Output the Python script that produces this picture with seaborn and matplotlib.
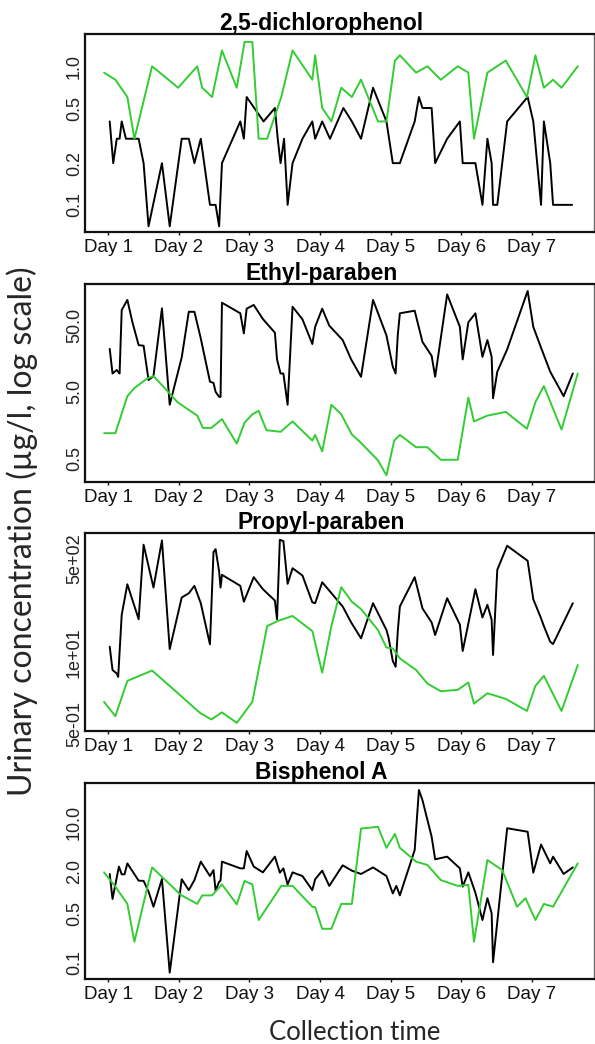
import numpy as np
import pandas as pd
import seaborn as sns
import matplotlib
matplotlib.use("Agg")
import matplotlib.pyplot as plt
from matplotlib.ticker import FixedLocator, FixedFormatter, NullLocator

sns.set_style("ticks")
plt.rcParams['font.family'] = ['Liberation Sans', 'DejaVu Sans']

BLACK = "#000000"
GREEN = "#33cc33"

day_ticks = [1, 2, 3, 4, 5, 6, 7]
day_labels = ["Day 1", "Day 2", "Day 3", "Day 4", "Day 5", "Day 6", "Day 7"]

# 2,5-dichlorophenol
dcp_black_day = [1.02, 1.07, 1.12, 1.16, 1.19, 1.25, 1.43, 1.50, 1.57, 1.76, 1.87, 2.04, 2.14, 2.22, 2.31,
                 2.44, 2.52, 2.57, 2.61, 2.87, 2.92, 2.96, 3.20, 3.36, 3.40, 3.44, 3.49, 3.54, 3.61, 3.75,
                 3.89, 3.93, 4.03, 4.14, 4.33, 4.45, 4.58, 4.75, 4.94, 5.03, 5.13, 5.34, 5.40, 5.45, 5.58,
                 5.63, 5.80, 5.98, 6.02, 6.20, 6.30, 6.37, 6.43, 6.45, 6.51, 6.65, 6.94, 7.02, 7.13, 7.17,
                 7.26, 7.30, 7.57]
dcp_black = [0.4, 0.2, 0.3, 0.3, 0.4, 0.3, 0.3, 0.2, 0.07, 0.2, 0.07, 0.3, 0.3, 0.2, 0.3,
             0.1, 0.1, 0.07, 0.2, 0.4, 0.3, 0.6, 0.4, 0.5, 0.3, 0.2, 0.3, 0.1, 0.2, 0.3,
             0.4, 0.3, 0.4, 0.3, 0.5, 0.4, 0.3, 0.7, 0.4, 0.2, 0.2, 0.4, 0.6, 0.5, 0.5,
             0.2, 0.3, 0.4, 0.2, 0.2, 0.1, 0.3, 0.2, 0.1, 0.1, 0.4, 0.6, 0.4, 0.1, 0.4,
             0.2, 0.1, 0.1]
dcp_green_day = [0.94, 1.10, 1.27, 1.37, 1.62, 1.99, 2.26, 2.33, 2.47, 2.61, 2.82, 2.93, 3.04, 3.13,
                 3.25, 3.45, 3.61, 3.89, 3.93, 4.03, 4.16, 4.30, 4.45, 4.58, 4.82, 4.94, 5.06, 5.13,
                 5.36, 5.52, 5.71, 5.95, 6.10, 6.18, 6.37, 6.63, 6.93, 7.05, 7.17, 7.30, 7.42, 7.65]
dcp_green = [0.9, 0.8, 0.6, 0.3, 1.0, 0.7, 1.0, 0.7, 0.6, 1.3, 0.7, 1.5, 1.5, 0.3,
             0.3, 0.6, 1.3, 0.8, 1.2, 0.5, 0.4, 0.7, 0.6, 0.8, 0.4, 0.4, 1.1, 1.2,
             0.9, 1.0, 0.8, 1.0, 0.9, 0.3, 0.9, 1.1, 0.6, 1.2, 0.7, 0.8, 0.7, 1.0]

# Ethyl-paraben
ep_black_day = [1.02, 1.06, 1.09, 1.12, 1.14, 1.16, 1.19, 1.27, 1.34, 1.43, 1.50, 1.57, 1.64, 1.76, 1.87,
                2.04, 2.14, 2.22, 2.31, 2.44, 2.49, 2.52, 2.57, 2.59, 2.61, 2.87, 2.92, 2.96, 3.06, 3.19,
                3.36, 3.39, 3.44, 3.48, 3.54, 3.61, 3.75, 3.89, 3.93, 4.03, 4.13, 4.32, 4.44, 4.58, 4.75,
                4.94, 5.03, 5.07, 5.10, 5.13, 5.34, 5.45, 5.58, 5.63, 5.80, 5.98, 6.02, 6.10, 6.20, 6.30,
                6.37, 6.43, 6.45, 6.51, 6.65, 6.94, 7.02, 7.13, 7.26, 7.45, 7.58]
ep_black = [22, 9.4, 10, 10.6, 10, 9.4, 84, 119, 56, 25, 24.5, 7.5, 8.6, 89, 3.2,
            16.4, 79, 79, 31.5, 7.1, 6.8, 5.0, 4.2, 4.2, 108, 75, 37.5, 88, 100, 61.5,
            38.4, 15.3, 9.4, 9.4, 3.2, 94, 61, 26, 47, 88, 49, 29.8, 15.3, 8.4, 119,
            35, 11.9, 9.4, 35, 75, 82, 28, 17.3, 8.4, 144, 47, 15.3, 55, 75, 16.7,
            29.8, 16.7, 4.0, 10, 21.6, 162, 47, 22.9, 10, 4.3, 9.4]
ep_green_day = [0.94, 1.10, 1.27, 1.37, 1.55, 1.64, 1.76, 1.98, 2.26, 2.34, 2.46, 2.61, 2.82, 2.93,
                3.04, 3.13, 3.24, 3.44, 3.61, 3.89, 3.93, 4.03, 4.16, 4.30, 4.45, 4.58, 4.82, 4.94,
                5.05, 5.13, 5.36, 5.52, 5.71, 5.95, 6.10, 6.18, 6.37, 6.63, 6.93, 7.05, 7.17, 7.42, 7.65]
ep_green = [1.2, 1.2, 4.3, 5.7, 7.9, 8.6, 6.3, 3.5, 2.2, 1.44, 1.44, 1.95, 0.84, 1.73,
            2.3, 2.6, 1.33, 1.26, 1.8, 0.93, 1.13, 0.64, 3.2, 2.3, 1.15, 0.86, 0.47, 0.28,
            0.93, 1.13, 0.74, 0.74, 0.48, 0.48, 4.1, 1.8, 2.2, 2.5, 1.4, 3.5, 6.1, 1.36, 9.4]

# Propyl-paraben
pp_black_day = [1.02, 1.06, 1.12, 1.14, 1.19, 1.27, 1.43, 1.50, 1.64, 1.76, 1.87, 2.04, 2.14, 2.22, 2.31,
                2.44, 2.49, 2.52, 2.57, 2.59, 2.61, 2.87, 2.92, 3.06, 3.19, 3.36, 3.39, 3.43, 3.48, 3.54,
                3.61, 3.75, 3.89, 3.93, 4.03, 4.13, 4.32, 4.44, 4.58, 4.75, 4.94, 4.97, 5.03, 5.07, 5.10,
                5.13, 5.34, 5.45, 5.58, 5.63, 5.80, 5.98, 6.02, 6.20, 6.30, 6.37, 6.43, 6.45, 6.51, 6.65,
                6.94, 7.02, 7.13, 7.17, 7.26, 7.30, 7.58]
pp_black = [12.7, 4.8, 4.15, 3.6, 48, 172, 40, 895, 150, 1072, 11.5, 99, 118, 161, 78,
            14, 658, 746, 293, 150, 255, 161, 83, 231, 140, 87, 40, 1100, 1042, 175,
            336, 248, 81, 78, 187, 132, 68, 35, 18, 78, 25.5, 18.5, 7.0, 5.5, 23.8,
            68, 231, 63, 35, 20.7, 96, 32, 10.6, 140, 43, 73, 39, 9.0, 314, 857,
            458, 92, 41.5, 30, 15.6, 14.2, 78]
pp_green_day = [0.94, 1.10, 1.27, 1.62, 1.98, 2.30, 2.46, 2.61, 2.82, 3.04, 3.25, 3.41, 3.61, 3.89,
                4.03, 4.16, 4.30, 4.45, 4.58, 4.82, 4.94, 5.03, 5.13, 5.36, 5.52, 5.71, 5.95, 6.10,
                6.18, 6.37, 6.63, 6.93, 7.05, 7.17, 7.42, 7.65]
pp_green = [1.27, 0.70, 3.05, 4.7, 1.85, 0.80, 0.61, 0.82, 0.53, 1.27, 30, 37.6, 45.8, 24.4,
            4.3, 30, 152, 83, 61, 25.5, 12.3, 11.8, 7.8, 4.8, 2.73, 1.98, 2.1, 2.85,
            1.18, 1.82, 1.44, 0.87, 2.48, 3.77, 0.87, 5.9]

# Bisphenol A
bpa_black_day = [1.02, 1.06, 1.15, 1.19, 1.23, 1.27, 1.43, 1.50, 1.57, 1.64, 1.76, 1.87, 2.04, 2.14, 2.22,
                 2.31, 2.44, 2.49, 2.52, 2.57, 2.59, 2.61, 2.87, 2.92, 2.96, 3.06, 3.19, 3.36, 3.43, 3.48,
                 3.54, 3.61, 3.75, 3.89, 3.93, 4.03, 4.13, 4.32, 4.45, 4.58, 4.75, 4.94, 5.03, 5.08, 5.13,
                 5.34, 5.40, 5.45, 5.58, 5.63, 5.80, 5.98, 6.02, 6.10, 6.20, 6.30, 6.37, 6.43, 6.45, 6.65,
                 6.94, 7.02, 7.13, 7.26, 7.30, 7.45, 7.58]
bpa_black = [1.82, 0.80, 2.32, 1.80, 1.80, 2.58, 1.46, 1.45, 1.02, 0.62, 1.54, 0.071, 1.53, 1.07, 1.49,
             2.73, 1.70, 2.07, 1.05, 1.41, 1.46, 2.73, 2.19, 2.19, 3.88, 2.32, 1.92, 3.22, 1.90, 2.19,
             1.29, 1.92, 1.70, 1.07, 1.53, 2.03, 1.23, 2.42, 2.03, 1.82, 2.26, 1.70, 0.96, 1.23, 0.90,
             4.0, 28.8, 20.7, 6.2, 2.95, 3.22, 2.19, 1.2, 1.92, 0.98, 0.40, 0.82, 0.50, 0.10, 8.2,
             7.3, 1.90, 4.8, 2.58, 3.22, 1.82, 2.26]
bpa_green_day = [0.94, 1.10, 1.27, 1.37, 1.62, 2.03, 2.26, 2.33, 2.47, 2.61, 2.82, 2.93, 3.04, 3.13,
                 3.45, 3.61, 3.89, 3.93, 4.03, 4.16, 4.30, 4.45, 4.58, 4.82, 4.94, 5.06, 5.13, 5.36,
                 5.52, 5.71, 5.95, 6.10, 6.18, 6.37, 6.58, 6.79, 6.91, 7.05, 7.17, 7.30, 7.65]
bpa_green = [1.92, 1.2, 0.68, 0.196, 2.26, 0.91, 0.68, 0.90, 0.90, 1.29, 0.67, 1.45, 1.29, 0.40,
             1.23, 1.23, 0.62, 0.61, 0.30, 0.30, 0.68, 0.68, 8.1, 8.6, 4.3, 6.8, 4.3, 2.73,
             2.45, 1.49, 1.23, 1.27, 0.196, 2.88, 2.07, 0.62, 0.82, 0.40, 0.68, 0.62, 2.58]

panels = [
    dict(title="2,5-dichlorophenol", black=(dcp_black_day, dcp_black), green=(dcp_green_day, dcp_green),
         ylim=(0.0637, 1.71), yticks=[0.1, 0.2, 0.5, 1.0], ylabels=["0.1", "0.2", "0.5", "1.0"]),
    dict(title="Ethyl-paraben", black=(ep_black_day, ep_black), green=(ep_green_day, ep_green),
         ylim=(0.223, 206), yticks=[0.5, 5, 50], ylabels=["0.5", "5.0", "50.0"]),
    dict(title="Propyl-paraben", black=(pp_black_day, pp_black), green=(pp_green_day, pp_green),
         ylim=(0.377, 1460), yticks=[0.5, 10, 500], ylabels=["5e-01", "1e+01", "5e+02"]),
    dict(title="Bisphenol A", black=(bpa_black_day, bpa_black), green=(bpa_green_day, bpa_green),
         ylim=(0.0575, 36.3), yticks=[0.1, 0.5, 2, 10], ylabels=["0.1", "0.5", "2.0", "10.0"]),
]

W, H = 595, 1044
fig = plt.figure(figsize=(W / 100, H / 100), dpi=100)

# axes boxes in pixels (top, bottom)
boxes = [(34, 232), (284, 482), (533, 731), (783, 979)]
left_px, right_px = 85, 594

for p, (top, bot) in zip(panels, boxes):
    ax = fig.add_axes([left_px / W, 1 - bot / H, (right_px - left_px) / W, (bot - top) / H])
    bdf = pd.DataFrame({"day": p["black"][0], "conc": p["black"][1]})
    gdf = pd.DataFrame({"day": p["green"][0], "conc": p["green"][1]})
    sns.lineplot(data=bdf, x="day", y="conc", ax=ax, color=BLACK, lw=1.4, estimator=None, sort=False)
    sns.lineplot(data=gdf, x="day", y="conc", ax=ax, color=GREEN, lw=1.4, estimator=None, sort=False)
    ax.set_yscale("log")
    ax.set_xlim(0.67, 7.88)
    ax.set_ylim(*p["ylim"])
    ax.yaxis.set_major_locator(FixedLocator(p["yticks"]))
    ax.yaxis.set_major_formatter(FixedFormatter(p["ylabels"]))
    ax.yaxis.set_minor_locator(NullLocator())
    ax.set_xticks(day_ticks)
    ax.set_xticklabels(day_labels)
    ax.set_xlabel("")
    ax.set_ylabel("")
    ax.tick_params(axis="x", length=2.5, width=1, direction="out", pad=2.5,
                   labelsize=13.5, colors="#111111")
    ax.tick_params(axis="y", length=0, pad=1.5, labelsize=13, labelrotation=90, colors="#222222")
    for lbl in ax.get_yticklabels():
        lbl.set_va("center")
    for side in ["left", "bottom", "top"]:
        ax.spines[side].set_linewidth(1.6)
        ax.spines[side].set_color("#111111")
    ax.spines["right"].set_linewidth(1.0)
    ax.spines["right"].set_color("#666666")
    ax.text(0.465, 1 + 4 / (bot - top), p["title"], transform=ax.transAxes, ha="center",
            va="baseline", fontsize=16.5, fontweight="bold", color="black")

fig.text(22 / W, 1 - 531 / H, "Urinary concentration (\u00b5g/l, log scale)", rotation=90,
         ha="center", va="center", fontsize=23, family=["Lato", "DejaVu Sans"])
fig.text(355 / W, 1 - 1040 / H, "Collection time", ha="center", va="baseline",
         fontsize=18.5, family=["Lato", "DejaVu Sans"])

fig.savefig("out.png", dpi=100)
